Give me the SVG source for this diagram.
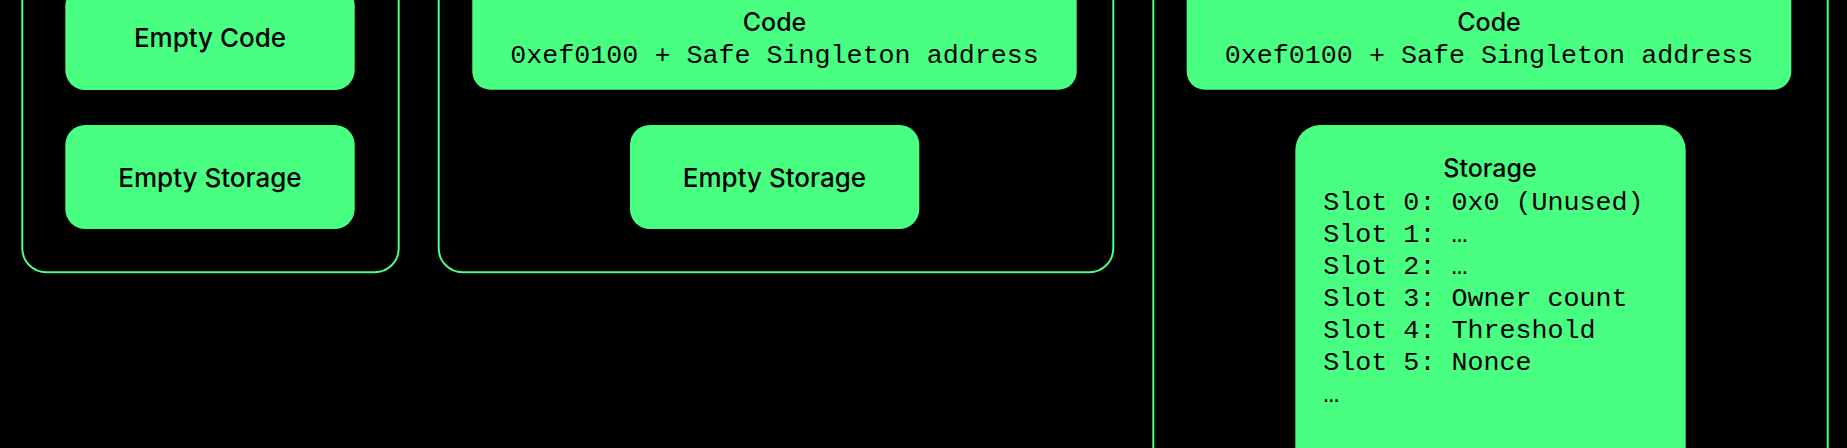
<svg xmlns="http://www.w3.org/2000/svg" width="1847" height="448" viewBox="0 0 1847 448">
  <style>
    .panel { fill: none; stroke: #48FF82; stroke-width: 2; }
    .box { fill: #48FF82; }
    .lbl { font-family: Inter, "Liberation Sans", sans-serif; font-weight: 500; fill: #000; text-anchor: middle; }
    .big { font-size: 26px; }
    .ttl { font-size: 25px; }
    .mono { font-family: "Liberation Mono", "DejaVu Sans Mono", monospace; font-size: 26.7px; fill: #000; }
  </style>
  <rect x="0" y="0" width="1847" height="448" fill="#000"/>
  <g id="connectors"></g>

  <g id="account-before">
    <rect class="panel" x="22.3" y="-40" width="376.4" height="312.3" rx="24"/>
    <g id="empty-code-1">
      <rect class="box" x="65.3" y="-14" width="289.4" height="104" rx="20"/>
      <text class="lbl big" x="210" y="47.3">Empty Code</text>
    </g>
    <g id="empty-storage-1">
      <rect class="box" x="65.3" y="125" width="289.4" height="104" rx="20"/>
      <text class="lbl big" x="210" y="187.3">Empty Storage</text>
    </g>
  </g>

  <g id="account-delegated">
    <rect class="panel" x="438.7" y="-40" width="674.6" height="312.3" rx="24"/>
    <g id="code-2">
      <rect class="box" x="472.3" y="-30" width="604.4" height="119.7" rx="18"/>
      <text class="lbl ttl" x="774.5" y="31">Code</text>
      <text class="mono" x="774.5" y="63.3" text-anchor="middle">0xef0100 + Safe Singleton address</text>
    </g>
    <g id="empty-storage-2">
      <rect class="box" x="630" y="125" width="289.3" height="104" rx="20"/>
      <text class="lbl big" x="774.5" y="186.7">Empty Storage</text>
    </g>
  </g>

  <g id="account-initialized">
    <rect class="panel" x="1153.3" y="-40" width="674.4" height="540" rx="24"/>
    <g id="code-3">
      <rect class="box" x="1186.7" y="-30" width="604.6" height="119.7" rx="18"/>
      <text class="lbl ttl" x="1489" y="31">Code</text>
      <text class="mono" x="1489" y="63.3" text-anchor="middle">0xef0100 + Safe Singleton address</text>
    </g>
    <g id="storage-3">
      <rect class="box" x="1295.3" y="125" width="390.4" height="400" rx="25"/>
      <text class="lbl ttl" x="1490" y="176.7">Storage</text>
      <text class="mono" x="1323.3" y="210">Slot 0: 0x0 (Unused)</text>
      <text class="mono" x="1323.3" y="241.7">Slot 1: …</text>
      <text class="mono" x="1323.3" y="273.5">Slot 2: …</text>
      <text class="mono" x="1323.3" y="305.5">Slot 3: Owner count</text>
      <text class="mono" x="1323.3" y="337.5">Slot 4: Threshold</text>
      <text class="mono" x="1323.3" y="369.8">Slot 5: Nonce</text>
      <text class="mono" x="1323.3" y="401.8">…</text>
    </g>
  </g>
</svg>
